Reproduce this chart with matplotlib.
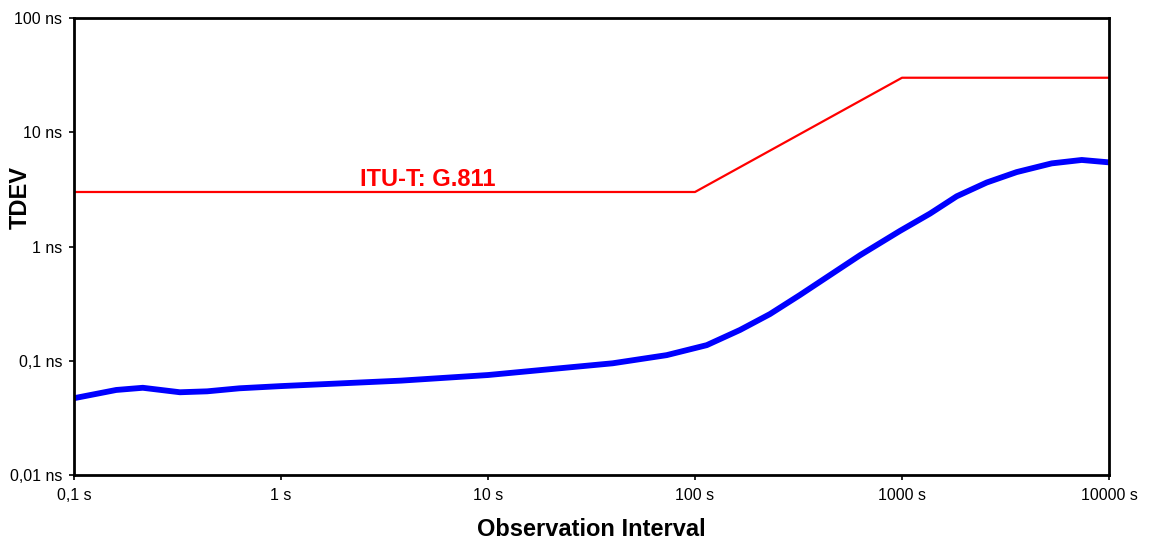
import matplotlib.pyplot as plt
from matplotlib.ticker import FixedLocator, NullLocator

# measured TDEV curve (tau in s, TDEV in ns)
tau = [0.1, 0.16, 0.215, 0.325, 0.44, 0.63, 1, 3.8, 10, 25, 40, 73, 114, 165,
       230, 321, 627, 978, 1365, 1837, 2565, 3580, 5285, 7384, 10000]
tdev = [0.047, 0.0555, 0.058, 0.053, 0.054, 0.0574, 0.060, 0.067, 0.075, 0.0877,
        0.095, 0.112, 0.137, 0.186, 0.256, 0.376, 0.839, 1.37, 1.94, 2.75, 3.63,
        4.48, 5.34, 5.72, 5.45]

# ITU-T G.811 mask
mask_tau = [0.1, 100, 1000, 10000]
mask_tdev = [3, 3, 30, 30]

x_ticks = [0.1, 1, 10, 100, 1000, 10000]
x_labels = ['0,1 s', '1 s', '10 s', '100 s', '1000 s', '10000 s']
y_ticks = [0.01, 0.1, 1, 10, 100]
y_labels = ['0,01 ns', '0,1 ns', '1 ns', '10 ns', '100 ns']

plt.rcParams['font.family'] = ['Liberation Sans', 'DejaVu Sans']

fig = plt.figure(figsize=(11.52, 5.42), dpi=100)
ax = fig.add_axes([0.0642, 0.1236, 0.8985, 0.8432])

ax.plot(mask_tau, mask_tdev, color='#ff0000', lw=1.6)
ax.plot(tau, tdev, color='#0000ff', lw=4.2, solid_joinstyle='round')

ax.set_xscale('log')
ax.set_yscale('log')
ax.set_xlim(0.1, 10000)
ax.set_ylim(0.01, 100)

ax.xaxis.set_major_locator(FixedLocator(x_ticks))
ax.xaxis.set_minor_locator(NullLocator())
ax.yaxis.set_major_locator(FixedLocator(y_ticks))
ax.yaxis.set_minor_locator(NullLocator())
ax.set_xticklabels(x_labels)
ax.set_yticklabels(y_labels)
ax.tick_params(axis='both', direction='out', length=3.5, width=1.2, labelsize=11.5)
ax.tick_params(axis='x', pad=6)
ax.tick_params(axis='y', pad=5)

for s in ax.spines.values():
    s.set_linewidth(2)
    s.set_color('black')

ax.set_xlabel('Observation Interval', fontsize=17, fontweight='bold')
ax.set_ylabel('TDEV', fontsize=17, fontweight='bold')
ax.xaxis.set_label_coords(0.5, -0.094)
ax.yaxis.set_label_coords(-0.041, 0.608)

ax.text(5.1, 3.4, 'ITU-T: G.811', color='#ff0000', fontsize=17, fontweight='bold',
        ha='center', va='baseline')

fig.savefig('out.png', dpi=100)
